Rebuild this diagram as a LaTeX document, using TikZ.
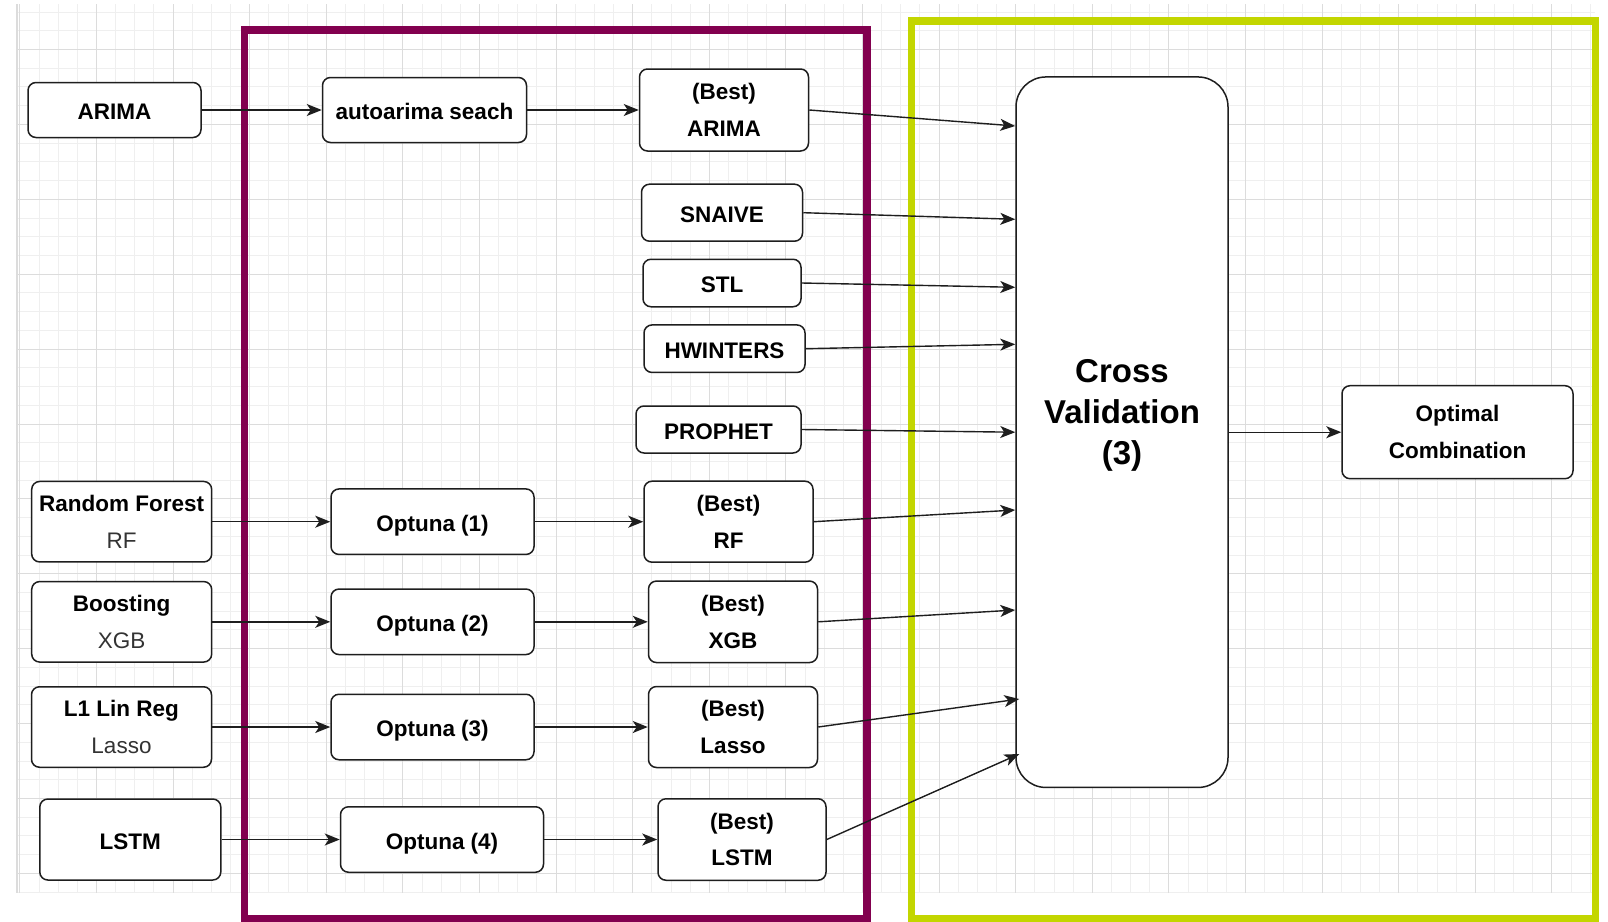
\documentclass[tikz,border=0pt]{standalone}
\usepackage{fontspec}
\setmainfont{Liberation Sans}
\usetikzlibrary{arrows.meta}

\definecolor{gridminor}{HTML}{EFEFEF}
\definecolor{gridmajor}{HTML}{DCDCDC}
\definecolor{framepurple}{HTML}{82004F}
\definecolor{framegreen}{HTML}{C3D600}
\definecolor{ink}{HTML}{1E1E1E}
\definecolor{subtext}{HTML}{333333}

% second, lighter line inside the model boxes
\newcommand{\lightline}[1]{{\mdseries\color{subtext}#1}}

\begin{document}
\begin{tikzpicture}[x=1pt,y=-1pt,
  box/.style={draw=ink, line width=1.5pt, rounded corners=8pt, fill=white,
    align=center, inner sep=0pt, text=black,
    execute at begin node={\rule{0pt}{20.5pt}},
    font=\bfseries\fontsize{22.5}{36.5}\selectfont},
  onebox/.style={box, text height=19pt, text depth=0pt},
  arr/.style={draw=ink, line width=1.4pt,
    -{Stealth[length=15pt,width=12pt,inset=4pt]}},
  frame/.style={line width=7.7pt}]

\useasboundingbox (0,0) rectangle (1608,921);
\clip (0,0) rectangle (1608,921);
\fill[white] (0,0) rectangle (1608,921);

% background grid
\foreach \i in {0,...,82}
  \draw[gridminor, line width=1pt] ({19.9+19.15*\i},4) -- ({19.9+19.15*\i},893);
\foreach \j in {2,...,49}
  \draw[gridminor, line width=1pt] (17,{-25.4+18.725*\j}) -- (1595,{-25.4+18.725*\j});
\foreach \i in {0,...,20}
  \draw[gridmajor, line width=1pt] ({19.9+76.6*\i},4) -- ({19.9+76.6*\i},893);
\foreach \j in {0,...,11}
  \draw[gridmajor, line width=1pt] (17,{49.5+74.9*\j}) -- (1595,{49.5+74.9*\j});
\draw[gridmajor, line width=1.5pt] (17,4) -- (17,893);

% grouping frames
\draw[framepurple, frame] (244.5,30) rectangle (866.7,918.5);
\draw[framegreen, frame] (911.5,21) rectangle (1595.5,918.5);

% ARIMA branch
\node[onebox, minimum width=173pt, minimum height=55pt] (arima) at (114.5,110) {ARIMA};
\node[onebox, minimum width=204pt, minimum height=65pt] (auto) at (424.5,110) {autoarima seach};
\node[box, minimum width=169pt, minimum height=82pt] (barima) at (724,110) {(Best)\\ARIMA};

% direct models
\node[onebox, minimum width=161pt, minimum height=57pt] (snaive) at (722,212.7) {SNAIVE};
\node[onebox, minimum width=158pt, minimum height=47.5pt] (stl) at (722,283) {STL};
\node[onebox, minimum width=161pt, minimum height=47.5pt] (hw) at (724.5,348.7) {HWINTERS};
\node[onebox, minimum width=165pt, minimum height=47pt] (prophet) at (718.5,429.5) {PROPHET};

% tuned models
\node[box, minimum width=180pt, minimum height=80.5pt] (rf) at (121.7,521.7) {Random Forest\\\lightline{RF}};
\node[box, minimum width=180pt, minimum height=80.5pt] (xgb) at (121.7,621.8) {Boosting\\\lightline{XGB}};
\node[box, minimum width=180pt, minimum height=80.5pt] (lasso) at (121.5,727) {L1 Lin Reg\\\lightline{Lasso}};
\node[onebox, minimum width=181pt, minimum height=81pt] (lstm) at (130.3,839.5) {LSTM};

\node[onebox, minimum width=203pt, minimum height=65.5pt] (opt1) at (432.5,521.7) {Optuna (1)};
\node[onebox, minimum width=203pt, minimum height=65.5pt] (opt2) at (432.5,621.8) {Optuna (2)};
\node[onebox, minimum width=203pt, minimum height=65.5pt] (opt3) at (432.5,727) {Optuna (3)};
\node[onebox, minimum width=203pt, minimum height=65.5pt] (opt4) at (442,839.5) {Optuna (4)};

\node[box, minimum width=169pt, minimum height=81pt] (brf) at (728.5,521.7) {(Best)\\RF};
\node[box, minimum width=169pt, minimum height=81.5pt] (bxgb) at (733,621.8) {(Best)\\XGB};
\node[box, minimum width=169pt, minimum height=81pt] (blasso) at (733,727) {(Best)\\Lasso};
\node[box, minimum width=168pt, minimum height=81.5pt] (blstm) at (742,839.5) {(Best)\\LSTM};

% cross validation and result
\node[box, rounded corners=30pt, minimum width=212pt, minimum height=710.5pt] (cv) at (1122,432.2) {};
\node[align=center, inner sep=0pt, font=\bfseries\fontsize{33}{41}\selectfont] (cvtext) at (1122,415) {Cross\\Validation\\(3)};
\node[box, minimum width=231pt, minimum height=93pt] (optc) at (1457.5,432.2) {Optimal\\Combination};

% connectors
\draw[arr] (arima.east) -- (auto.west);
\draw[arr] (auto.east) -- (barima.west);
\draw[arr] (rf.east) -- (opt1.west);
\draw[arr] (opt1.east) -- (brf.west);
\draw[arr] (xgb.east) -- (opt2.west);
\draw[arr] (opt2.east) -- (bxgb.west);
\draw[arr] (lasso.east) -- (opt3.west);
\draw[arr] (opt3.east) -- (blasso.west);
\draw[arr] (lstm.east) -- (opt4.west);
\draw[arr] (opt4.east) -- (blstm.west);

\draw[arr] (barima.east) -- ([yshift=306.2pt]cv.west);
\draw[arr] (snaive.east) -- ([yshift=212.9pt]cv.west);
\draw[arr] (stl.east) -- ([yshift=144.9pt]cv.west);
\draw[arr] (hw.east) -- ([yshift=87.9pt]cv.west);
\draw[arr] (prophet.east) -- (cv.west);
\draw[arr] (brf.east) -- ([yshift=-77.8pt]cv.west);
\draw[arr] (bxgb.east) -- ([yshift=-177.8pt]cv.west);
\draw[arr] (blasso.east) -- ([xshift=4pt,yshift=-266.8pt]cv.west);
\draw[arr] (blstm.east) -- ([xshift=4pt,yshift=-321.8pt]cv.west);

\draw[arr] (cv.east) -- (optc.west);
\end{tikzpicture}
\end{document}
